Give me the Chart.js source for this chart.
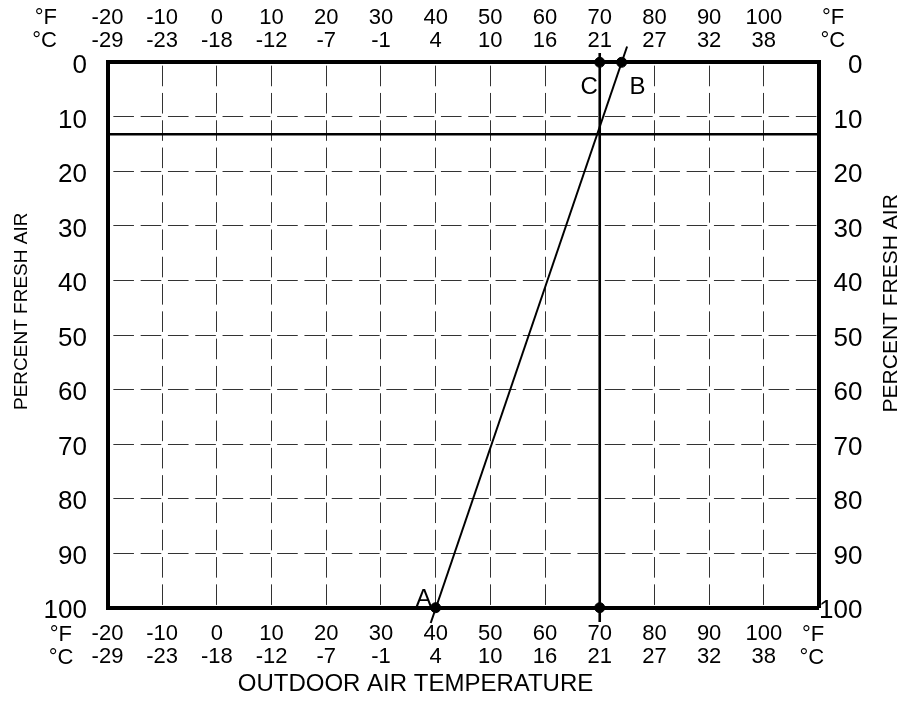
<!DOCTYPE html>
<html>
<head>
<meta charset="utf-8">
<title>Percent fresh air vs outdoor air temperature</title>
<script src="https://cdn.jsdelivr.net/npm/chart.js@4.4.0/dist/chart.umd.min.js"></script>
<style>
  html, body { margin: 0; padding: 0; background: #fff; }
  #wrap { width: 905px; height: 702px; }
</style>
</head>
<body>
<div id="wrap"><canvas id="chart" width="905" height="702"></canvas></div>
<script>
// tick labels as printed on the chart
const fahrenheit = [-20, -10, 0, 10, 20, 30, 40, 50, 60, 70, 80, 90, 100];
const celsius = [-29, -23, -18, -12, -7, -1, 4, 10, 16, 21, 27, 32, 38];
const percentTicks = [0, 10, 20, 30, 40, 50, 60, 70, 80, 90, 100];

// A-B mixing line (runs a little past both ends)
const mixLineX = [39.1, 75.0];
const mixLineY = [102.8, -2.9];
// 70 F line
const setpointX = [70, 70];
const setpointY = [-1.7, 102.6];
// minimum fresh air line
const minAirX = [-20, 110];
const minAirY = [13.2, 13.2];

// dots and their letters
const pointNames = ['A', 'B', 'C', ''];
const pointX = [40, 74, 70, 70];
const pointY = [100, 0, 0, 100];

const FONT = '"Liberation Sans", Arial, Helvetica, sans-serif';
Chart.defaults.font.family = FONT;
Chart.defaults.color = '#000';

const toPoints = (xs, ys) => xs.map((x, i) => ({ x: x, y: ys[i] }));

function fixSize(size) {
  return function (scale) {
    if (scale.isHorizontal()) scale.height = size;
    else scale.width = size;
  };
}

// dashed grid: gaps centred on the grid crossings
const gridDash = [20.6, 6.7];
const gridDashOffset = 23.95;

// letters next to the dots + outside labels (units and axis titles)
const letterOffsets = {
  A: { dx: -4, dy: -2, align: 'right' },
  B: { dx: 8, dy: 32, align: 'left' },
  C: { dx: -2, dy: 32, align: 'right' }
};

const extraText = {
  id: 'extraText',
  afterDraw(chart) {
    const { ctx, chartArea: a, scales } = chart;
    ctx.save();
    ctx.fillStyle = '#000';

    // A / B / C
    ctx.font = '24px ' + FONT;
    ctx.textBaseline = 'alphabetic';
    pointNames.forEach((name, i) => {
      if (!name) return;
      const o = letterOffsets[name];
      const px = scales.x.getPixelForValue(pointX[i]);
      const py = scales.y.getPixelForValue(pointY[i]);
      ctx.textAlign = o.align;
      ctx.fillText(name, px + o.dx, py + o.dy);
    });

    // unit labels in front of / after the tick rows
    ctx.font = '22px ' + FONT;
    ctx.textBaseline = 'middle';
    ctx.textAlign = 'right';
    ctx.fillText('°F', a.left - 50.5, a.top - 44.8);
    ctx.fillText('°C', a.left - 50.5, a.top - 21.8);
    ctx.fillText('°F', a.left - 35.5, a.bottom + 27);
    ctx.fillText('°C', a.left - 34, a.bottom + 50);
    ctx.textAlign = 'left';
    ctx.fillText('°F', a.right + 3.5, a.top - 44.8);
    ctx.fillText('°C', a.right + 2, a.top - 21.8);
    ctx.fillText('°F', a.right - 16.5, a.bottom + 27);
    ctx.fillText('°C', a.right - 19, a.bottom + 50);

    // axis titles
    ctx.textAlign = 'center';
    ctx.font = '24px ' + FONT;
    ctx.fillText('OUTDOOR AIR TEMPERATURE', a.left + 308, a.bottom + 77);

    ctx.font = '19px ' + FONT;
    ctx.save();
    ctx.translate(a.left - 85.5, a.top + 249);
    ctx.rotate(-Math.PI / 2);
    ctx.fillText('PERCENT FRESH AIR', 0, 0);
    ctx.restore();

    ctx.font = '21px ' + FONT;
    ctx.save();
    ctx.translate(a.right + 72.5, a.top + 241);
    ctx.rotate(-Math.PI / 2);
    ctx.fillText('PERCENT FRESH AIR', 0, 0);
    ctx.restore();

    ctx.restore();
  }
};

function tempLabel(value) {
  const i = fahrenheit.indexOf(value);
  return i < 0 ? '' : [String(fahrenheit[i]), String(celsius[i])];
}

function percentLabel(value) {
  return percentTicks.includes(value) ? String(value) : '';
}

const border = { display: true, width: 4, color: '#000' };

new Chart(document.getElementById('chart'), {
  type: 'scatter',
  data: {
    datasets: [
      {
        label: 'mix',
        type: 'line',
        data: toPoints(mixLineX, mixLineY),
        borderColor: '#000',
        borderWidth: 2,
        pointRadius: 0,
        clip: false
      },
      {
        label: '70F',
        type: 'line',
        data: toPoints(setpointX, setpointY),
        borderColor: '#000',
        borderWidth: 2.6,
        pointRadius: 0,
        clip: false
      },
      {
        label: 'min air',
        type: 'line',
        data: toPoints(minAirX, minAirY),
        borderColor: '#000',
        borderWidth: 2.4,
        pointRadius: 0,
        clip: false
      },
      {
        label: 'points',
        data: toPoints(pointX, pointY),
        backgroundColor: '#000',
        borderColor: '#000',
        pointRadius: 5,
        clip: false
      }
    ]
  },
  options: {
    responsive: false,
    animation: false,
    events: [],
    layout: { autoPadding: false, padding: { left: 0, top: 0, bottom: 0, right: 42.5 } },
    plugins: { legend: { display: false }, tooltip: { enabled: false } },
    scales: {
      x: {
        type: 'linear',
        position: 'bottom',
        min: -20,
        max: 110,
        afterFit: fixSize(94.3),
        ticks: {
          stepSize: 10,
          autoSkip: false,
          maxRotation: 0,
          padding: 15,
          font: { size: 22, lineHeight: 1.05 },
          callback: tempLabel
        },
        grid: { color: '#333', lineWidth: 1, drawTicks: false },
        border: Object.assign({ dash: gridDash, dashOffset: gridDashOffset }, border)
      },
      xTop: {
        type: 'linear',
        position: 'top',
        min: -20,
        max: 110,
        afterFit: fixSize(62.3),
        ticks: {
          stepSize: 10,
          autoSkip: false,
          maxRotation: 0,
          padding: 10,
          font: { size: 22, lineHeight: 1.05 },
          callback: tempLabel
        },
        grid: { display: false, drawTicks: false },
        border: border
      },
      y: {
        type: 'linear',
        position: 'left',
        min: 0,
        max: 100,
        reverse: true,
        afterFit: fixSize(107.5),
        ticks: {
          stepSize: 10,
          padding: 20.5,
          labelOffset: 3.5,
          crossAlign: 'near',
          font: { size: 26 },
          callback: percentLabel
        },
        grid: { color: '#333', lineWidth: 1, drawTicks: false },
        border: Object.assign({ dash: gridDash, dashOffset: gridDashOffset }, border)
      },
      yRight: {
        type: 'linear',
        position: 'right',
        min: 0,
        max: 100,
        reverse: true,
        afterFit: fixSize(44),
        ticks: {
          stepSize: 10,
          padding: 2,
          labelOffset: 3.5,
          crossAlign: 'far',
          font: { size: 26 },
          callback: percentLabel
        },
        grid: { display: false, drawTicks: false },
        border: border
      }
    }
  },
  plugins: [extraText]
});
</script>
</body>
</html>
